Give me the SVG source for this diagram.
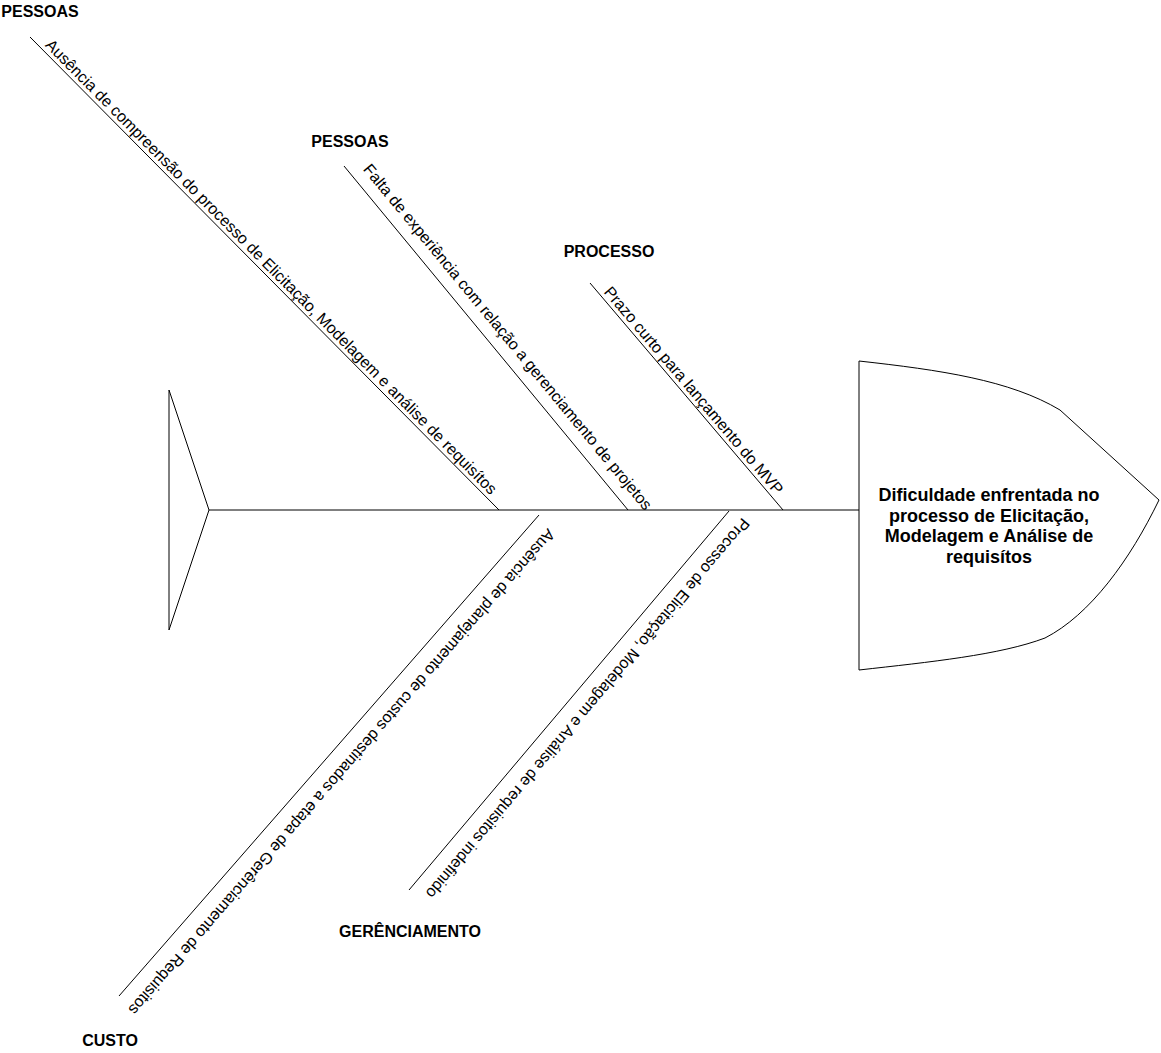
<svg xmlns="http://www.w3.org/2000/svg" width="1161" height="1053" viewBox="0 0 1161 1053">
<style>
.ln{stroke:#000;stroke-width:1;fill:none}
.cat{font-family:"Liberation Sans",Arial,sans-serif;font-size:16px;font-weight:bold;fill:#000;text-anchor:middle}
.bt{font-family:"Liberation Sans",Arial,sans-serif;font-size:16px;fill:#000;text-anchor:middle}
.hd{font-family:"Liberation Sans",Arial,sans-serif;font-size:18px;font-weight:bold;fill:#000;text-anchor:middle}
</style>
<rect width="1161" height="1053" fill="#fff"/>
<g id="tail"><path class="ln" d="M169,390 L209,510 L169,630 Z"/></g>
<g id="connectors">
<line class="ln" x1="209" y1="510" x2="859" y2="510"/>
<line class="ln" x1="30" y1="37" x2="499" y2="510"/>
<line class="ln" x1="344" y1="166" x2="628" y2="510"/>
<line class="ln" x1="590" y1="283" x2="783" y2="510"/>
<line class="ln" x1="539" y1="515" x2="119" y2="996"/>
<line class="ln" x1="729" y1="511" x2="409" y2="890"/>
</g>
<g id="head">
<path class="ln" d="M859,361 C940,370 1010,380 1060,410 L1159,500 C1130,560 1090,615 1045,638 C1000,655 930,662 859,670 Z" style="fill:#fff"/>
<text class="hd" x="989" y="501">Dificuldade enfrentada no</text>
<text class="hd" x="989" y="521.5">processo de Elicitação,</text>
<text class="hd" x="989" y="542">Modelagem e Análise de</text>
<text class="hd" x="989" y="562.5">requisítos</text>
</g>
<g id="bone1"><text class="bt" transform="translate(264.5,273.5) rotate(45.24)" x="0" y="-4">Ausência de compreensão do processo de Elicitação, Modelagem e análise de requisítos</text></g>
<g id="bone2"><text class="bt" transform="translate(486,338) rotate(50.46)" x="13" y="-12">Falta de experiência com relação a gerenciamento de projetos</text></g>
<g id="bone3"><text class="bt" transform="translate(686.5,396.5) rotate(49.63)" x="0" y="-4">Prazo curto para lançamento do MVP</text></g>
<g id="bone4"><text class="bt" transform="translate(329,755.5) rotate(131.13)" x="4" y="-15">Ausência de planejamento de custos destinados a etapa de Gerênciamento de Requisitos</text></g>
<g id="bone5"><text class="bt" transform="translate(569,700.5) rotate(130.17)" x="-6" y="-14">Processo de Elicitação, Modelagem e Análise de requisitos indefinido</text></g>
<g id="label-pessoas1"><text class="cat" x="40" y="17">PESSOAS</text></g>
<g id="label-pessoas2"><text class="cat" x="350" y="147">PESSOAS</text></g>
<g id="label-processo"><text class="cat" x="609" y="257">PROCESSO</text></g>
<g id="label-gerenciamento"><text class="cat" x="410" y="937">GERÊNCIAMENTO</text></g>
<g id="label-custo"><text class="cat" x="110" y="1046">CUSTO</text></g>
</svg>
